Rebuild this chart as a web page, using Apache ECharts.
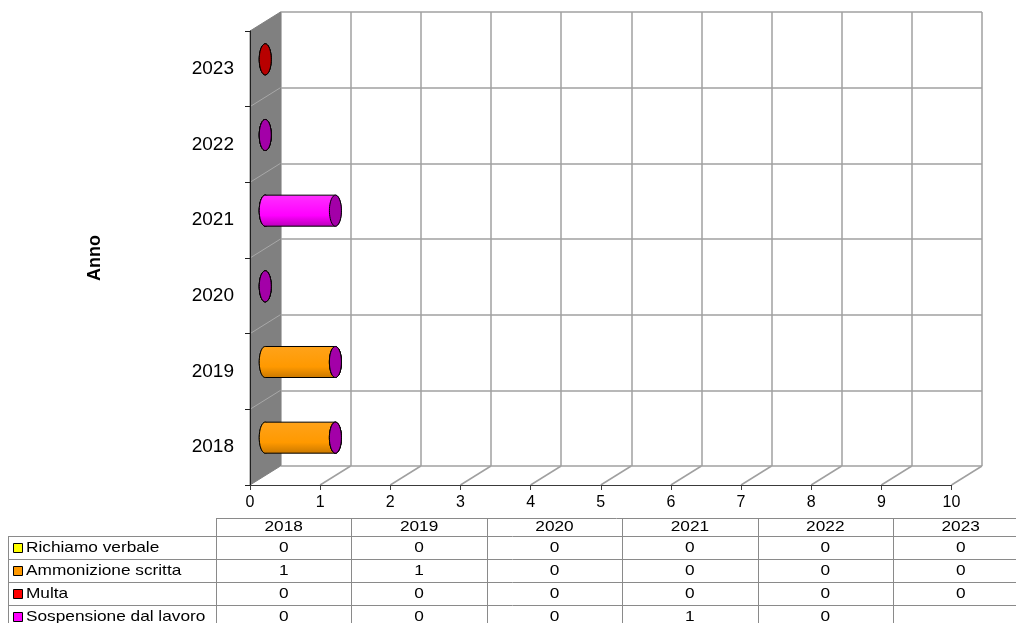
<!DOCTYPE html>
<html>
<head>
<meta charset="utf-8">
<script src="https://cdn.jsdelivr.net/npm/echarts@6/dist/echarts.min.js"></script>
<style>
  html, body { margin: 0; padding: 0; background: #fff; }
  #chart { width: 1016px; height: 623px; }
</style>
</head>
<body>
<div id="chart"></div>
<script>
// Categories (years) and disciplinary measures per year
const categories = ['2018', '2019', '2020', '2021', '2022', '2023'];
const seriesNames = ['Richiamo verbale', 'Ammonizione scritta', 'Multa', 'Sospensione dal lavoro'];
const richiamoVerbale = [0, 0, 0, 0, 0, 0];
const ammonizioneScritta = [1, 1, 0, 0, 0, 0];
const multa = [0, 0, 0, 0, 0, 0];
const sospensione = [0, 0, 0, 1, 0, null];
const valueTicks = { min: 0, max: 10, interval: 1 };

const seriesValues = [richiamoVerbale, ammonizioneScritta, multa, sospensione];
const keyColors = ['#ffff00', '#ff9900', '#ff0000', '#ff00ff'];
const bodyStops = [
  ['#ffff40', '#ffff00', '#c8c800'],
  ['#ffa31a', '#ff9900', '#c97800'],
  ['#ff2020', '#ff0000', '#b80000'],
  ['#ff30ff', '#ff00ff', '#b800b8']
];
const capColors = ['#c8c800', '#c97800', '#b80000', '#a300a8'];

// 3D depth of the box (front plane -> back wall)
const DX = 30.5, DY = -19;
const FONT = '"Liberation Sans", Arial, sans-serif';
// table text is drawn slightly wide
const TEXT_STRETCH = 1.15;

const chart = echarts.init(document.getElementById('chart'));

function ellipsePts(cx, cy, rx, ry, a0, a1, n) {
  const pts = [];
  for (let i = 0; i <= n; i++) {
    const t = a0 + (a1 - a0) * i / n;
    pts.push([cx + rx * Math.cos(t), cy + ry * Math.sin(t)]);
  }
  return pts;
}

// Stacked cylinders: [categoryIndex, start, end]
function stackedData(k) {
  const out = [];
  categories.forEach((c, i) => {
    const v = seriesValues[k][i];
    if (v === null || v === undefined) return;
    let start = 0;
    for (let j = 0; j < k; j++) {
      const w = seriesValues[j][i];
      if (w) start += w;
    }
    out.push([i, start, start + v]);
  });
  return out;
}

function cylinderRenderer(k) {
  return function (params, api) {
    const cat = api.value(0), s = api.value(1), e = api.value(2);
    const a = api.coord([s, cat]);
    const b = api.coord([e, cat]);
    const band = api.size([0, 1])[1];
    const ry = band * 0.205, rx = 6;
    const cx0 = a[0] + DX / 2, cx1 = b[0] + DX / 2, cy = a[1] + DY / 2;
    const children = [];
    if (e > s) {
      const left = ellipsePts(cx0, cy, rx, ry, -Math.PI / 2, -3 * Math.PI / 2, 30);
      const right = ellipsePts(cx1, cy, rx, ry, Math.PI / 2, -Math.PI / 2, 30);
      children.push({
        type: 'polygon',
        shape: { points: left.concat(right) },
        style: {
          fill: new echarts.graphic.LinearGradient(0, 0, 0, 1, [
            { offset: 0, color: bodyStops[k][0] },
            { offset: 0.65, color: bodyStops[k][1] },
            { offset: 1, color: bodyStops[k][2] }
          ]),
          stroke: '#000', lineWidth: 1
        }
      });
    }
    children.push({
      type: 'polygon',
      shape: { points: ellipsePts(cx1, cy, rx, ry, 0, Math.PI * 2, 48) },
      style: { fill: capColors[k], stroke: '#000', lineWidth: 1 }
    });
    return { type: 'group', children: children };
  };
}

// Left wall and floor of the 3D box, drawn from the front axes
function frameRenderer(params, api) {
  const band = api.size([0, 1])[1];
  const bottom = api.coord([valueTicks.min, 0])[1] + band / 2;
  const top = api.coord([valueTicks.min, categories.length - 1])[1] - band / 2;
  const x0 = api.coord([valueTicks.min, 0])[0];
  const children = [];
  children.push({
    type: 'polygon',
    shape: { points: [[x0, top], [x0, bottom], [x0 + DX, bottom + DY], [x0 + DX, top + DY]] },
    style: { fill: '#808080', stroke: '#808080', lineWidth: 1 }
  });
  for (let i = 1; i < categories.length; i++) {
    const y = bottom - i * band;
    children.push({
      type: 'line',
      shape: { x1: x0, y1: y, x2: x0 + DX, y2: y + DY },
      style: { stroke: '#a8a8a8', lineWidth: 1 }
    });
  }
  for (let v = valueTicks.min + valueTicks.interval; v <= valueTicks.max; v += valueTicks.interval) {
    const x = api.coord([v, 0])[0];
    children.push({
      type: 'line',
      shape: { x1: x, y1: bottom, x2: x + DX, y2: bottom + DY },
      style: { stroke: '#a0a0a0', lineWidth: 1.5 }
    });
  }
  return { type: 'group', children: children };
}

// Data table under the chart
const TABLE = { left: 8, labelRight: 216, colW: 135.4, top: 518, headH: 18, rowH: 23 };
function buildTable() {
  const els = [];
  const right = TABLE.labelRight + TABLE.colW * categories.length;
  const rowsTop = TABLE.top + TABLE.headH;
  const bottom = rowsTop + TABLE.rowH * seriesNames.length;
  const lineStyle = { stroke: '#8a8a8a', lineWidth: 1 };
  els.push({ type: 'line', shape: { x1: TABLE.labelRight, y1: TABLE.top + 0.5, x2: right, y2: TABLE.top + 0.5 }, style: lineStyle });
  for (let r = 0; r <= seriesNames.length; r++) {
    const y = Math.round(rowsTop + r * TABLE.rowH) + 0.5;
    els.push({ type: 'line', shape: { x1: TABLE.left, y1: y, x2: right, y2: y }, style: lineStyle });
  }
  els.push({ type: 'line', shape: { x1: TABLE.left + 0.5, y1: rowsTop, x2: TABLE.left + 0.5, y2: bottom }, style: lineStyle });
  for (let c = 0; c <= categories.length; c++) {
    const x = Math.round(TABLE.labelRight + c * TABLE.colW) + 0.5;
    els.push({ type: 'line', shape: { x1: x, y1: TABLE.top, x2: x, y2: bottom }, style: lineStyle });
  }
  categories.forEach((cat, c) => {
    els.push({
      type: 'text', scaleX: TEXT_STRETCH,
      x: TABLE.labelRight + (c + 0.5) * TABLE.colW, y: TABLE.top + TABLE.headH / 2,
      style: { text: cat, fill: '#000', font: '15px ' + FONT, align: 'center', verticalAlign: 'middle' }
    });
  });
  seriesNames.forEach((name, r) => {
    const cy = rowsTop + (r + 0.5) * TABLE.rowH;
    els.push({
      type: 'rect',
      shape: { x: 13.5, y: Math.round(cy - 4) - 0.5, width: 9, height: 9 },
      style: { fill: keyColors[r], stroke: '#000', lineWidth: 1 }
    });
    els.push({
      type: 'text', x: 26, y: cy, scaleX: TEXT_STRETCH,
      style: { text: name, fill: '#000', font: '15px ' + FONT, align: 'left', verticalAlign: 'middle' }
    });
    seriesValues[r].forEach((v, c) => {
      els.push({
        type: 'text', scaleX: TEXT_STRETCH,
        x: TABLE.labelRight + (c + 0.5) * TABLE.colW, y: cy,
        style: { text: v === null ? '' : String(v), fill: '#000', font: '15px ' + FONT, align: 'center', verticalAlign: 'middle' }
      });
    });
  });
  return els;
}

const backGrid = { left: 280.5, right: 34, top: 12, bottom: 157 };
const frontGrid = { left: backGrid.left - DX, right: backGrid.right + DX, top: backGrid.top - DY, bottom: backGrid.bottom + DY };

const series = [{
  type: 'custom',
  xAxisIndex: 1, yAxisIndex: 1,
  z: 1,
  silent: true,
  renderItem: frameRenderer,
  data: [[0, 0]]
}];
seriesNames.forEach((name, k) => {
  series.push({
    name: name,
    type: 'custom',
    xAxisIndex: 1, yAxisIndex: 1,
    z: 10 + k,
    renderItem: cylinderRenderer(k),
    encode: { x: [1, 2], y: 0 },
    data: stackedData(k)
  });
});

chart.setOption({
  animation: false,
  backgroundColor: '#fff',
  textStyle: { fontFamily: FONT },
  grid: [
    Object.assign({ containLabel: false }, backGrid),
    Object.assign({ containLabel: false }, frontGrid)
  ],
  xAxis: [
    {
      gridIndex: 0, type: 'value',
      min: valueTicks.min, max: valueTicks.max, interval: valueTicks.interval,
      axisLine: { show: false }, axisTick: { show: false }, axisLabel: { show: false },
      splitLine: { show: true, lineStyle: { color: '#a0a0a0', width: 1.5 } }
    },
    {
      gridIndex: 1, type: 'value', z: 5,
      min: valueTicks.min, max: valueTicks.max, interval: valueTicks.interval,
      axisLine: { show: true, lineStyle: { color: '#3a3a3a', width: 1 } },
      axisTick: { show: true, length: 5, lineStyle: { color: '#3a3a3a' } },
      axisLabel: { show: true, color: '#000', fontSize: 16, margin: 10, fontFamily: FONT },
      splitLine: { show: false }
    }
  ],
  yAxis: [
    {
      gridIndex: 0, type: 'category', data: categories,
      axisLine: { show: false }, axisTick: { show: false }, axisLabel: { show: false },
      splitLine: { show: true, lineStyle: { color: '#a0a0a0', width: 1.5 } }
    },
    {
      gridIndex: 1, type: 'category', data: categories, z: 5,
      name: 'Anno', nameLocation: 'middle', nameRotate: 90, nameGap: 146,
      nameTextStyle: { color: '#000', fontSize: 18, fontWeight: 'bold', fontFamily: FONT },
      axisLine: { show: true, lineStyle: { color: '#202020', width: 1 } },
      axisTick: { show: true, length: 5, lineStyle: { color: '#202020' } },
      axisLabel: { show: true, color: '#000', fontSize: 19, margin: 16, fontFamily: FONT },
      splitLine: { show: false }
    }
  ],
  graphic: { elements: buildTable() },
  series: series
});
</script>
</body>
</html>
